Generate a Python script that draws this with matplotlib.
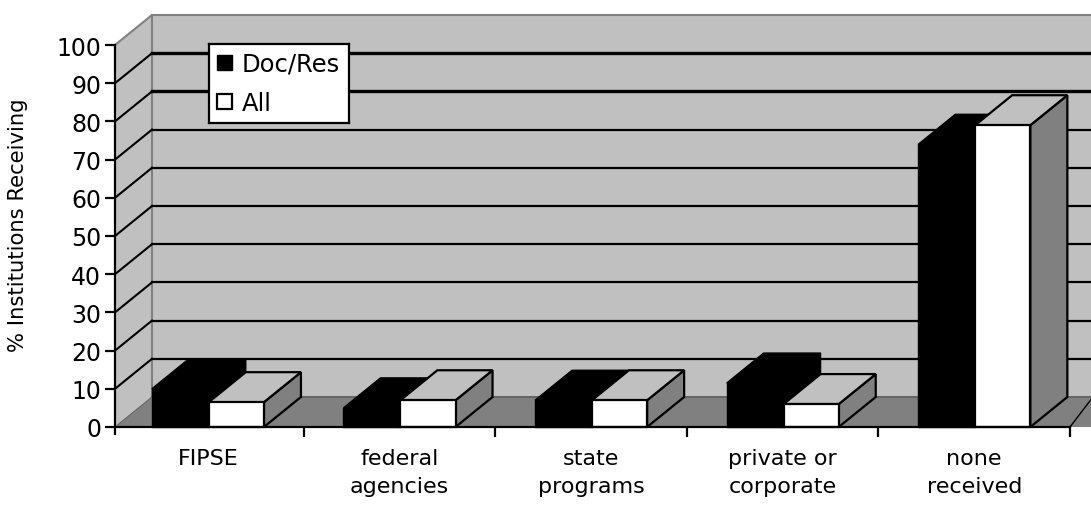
import numpy as np
import matplotlib
matplotlib.use('Agg')
from matplotlib import pyplot as plt
from matplotlib.patches import Polygon, Rectangle

categories = ['FIPSE', 'federal\nagencies', 'state\nprograms', 'private or\ncorporate', 'none\nreceived']
doc_res = [10, 5, 7, 11.5, 74]
all_inst = [6.5, 7, 7, 6, 79]
y_ticks = list(range(0, 101, 10))

W, H = 1091, 506
left, right, top, bottom = 115, 1070, 46, 428
cat_w = 191.6
x_start = 3 / cat_w   # y axis sits a little right of where category 0 would start
# depth of the fake 3d box, in data units
dx = 37 / cat_w
dy = 30 / ((bottom - top) / 100)
x_back = x_start + dx
xmax = 5 + (W - right) / cat_w

GREY = '#c0c0c0'
DARK = '#808080'

fig = plt.figure(figsize=(W / 100, H / 100), dpi=100)
ax = fig.add_axes([left / W, 1 - bottom / H, (right - left) / W, (bottom - top) / H])
ax.set_xlim(x_start, 5)
ax.set_ylim(0, 100)
for s in ['top', 'right']:
    ax.spines[s].set_visible(False)
for s in ['left', 'bottom']:
    ax.spines[s].set_linewidth(1.6)
    ax.spines[s].set_zorder(20)

def poly(pts, fc, ec='none', lw=0, z=1):
    ax.add_patch(Polygon(pts, closed=True, fc=fc, ec=ec, lw=lw, zorder=z, clip_on=False, joinstyle='miter'))

# walls and floor
poly([(x_back, dy), (xmax, dy), (xmax, 100 + dy), (x_back, 100 + dy)], GREY)
poly([(x_start, 0), (x_back, dy), (x_back, 100 + dy), (x_start, 100)], GREY)
poly([(x_start, 0), (xmax, 0), (xmax, dy), (x_back, dy)], DARK)
ax.plot([x_start, x_back, x_back], [100, 100 + dy, dy], color=DARK, lw=1.5, zorder=2, clip_on=False)
ax.plot([x_back, xmax], [100 + dy, 100 + dy], color=DARK, lw=1.5, zorder=2, clip_on=False)
ax.plot([x_back, xmax], [dy, dy], color='#666666', lw=1.5, zorder=2, clip_on=False)
ax.plot([x_start, x_back], [0, dy], color='#666666', lw=0.8, zorder=2, clip_on=False)
ax.plot([5, 5 + dx * 0.62], [0, dy], color='black', lw=1.0, zorder=2, clip_on=False)

for v in y_ticks[1:-1]:
    lw = 2.4 if v >= 80 else 1.6
    ax.plot([x_start, x_back], [v, v + dy], color='black', lw=1.5, zorder=3, clip_on=False)
    ax.plot([x_back, xmax], [v + dy, v + dy], color='black', lw=lw, zorder=3, clip_on=False)

# bars, back to front
black_off, black_w = 0.208, 0.297
white_off, white_w = 0.505, 0.288
def bar3d(x0, w, v, fc, edge):
    lw = 1.6 if edge else 1.0
    poly([(x0 + w, 0), (x0 + w + dx, dy), (x0 + w + dx, v + dy), (x0 + w, v)], DARK if edge else 'black', 'black', lw, 5)
    poly([(x0, v), (x0 + dx, v + dy), (x0 + w + dx, v + dy), (x0 + w, v)], GREY if edge else 'black', 'black', lw, 5)
    poly([(x0, 0), (x0 + w, 0), (x0 + w, v), (x0, v)], fc, 'black', lw, 5)

for i in range(len(categories)):
    bar3d(i + black_off, black_w, doc_res[i], 'black', False)
    bar3d(i + white_off, white_w, all_inst[i], 'white', True)

# axes ticks
ax.set_yticks(y_ticks)
ax.set_xticks(range(1, 6))
ax.set_xticklabels([])
ax.tick_params(axis='y', length=7, width=1.6, labelsize=17, pad=3, color='black')
ax.tick_params(axis='x', length=7, width=1.6, direction='out')
ax.plot([x_start, x_start], [0, -7 / 3.82], color='black', lw=1.6, zorder=20, clip_on=False)
for i, c in enumerate(categories):
    ax.text(i + 0.5, -5.4, c, ha='center', va='top', fontsize=16, linespacing=1.55, zorder=20)
fig.text(18 / W, 1 - 225 / H, '% Institutions Receiving', rotation=90, ha='center', va='center', fontsize=15.2)

# legend box drawn by hand to match
lg = fig.add_axes([209 / W, 1 - 124 / H, 140 / W, 79 / H], zorder=30)
lg.set_xlim(0, 140)
lg.set_ylim(79, 0)
lg.set_xticks([])
lg.set_yticks([])
for s in lg.spines.values():
    s.set_linewidth(1.6)
lg.add_patch(Rectangle((8, 11), 15, 15, fc='black', ec='black', lw=1))
lg.add_patch(Rectangle((8, 50), 15, 15, fc='white', ec='black', lw=1.6))
lg.text(33, 20, 'Doc/Res', va='center', fontsize=17.5)
lg.text(33, 59, 'All', va='center', fontsize=17.5)

fig.savefig('out.png', dpi=100)
